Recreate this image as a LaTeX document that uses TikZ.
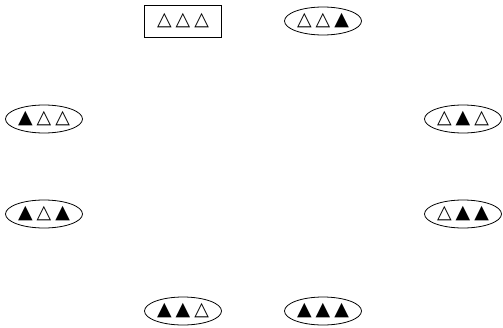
\documentclass[tikz,border=0pt]{standalone}
\usepackage{fontspec}
\usetikzlibrary{shapes.geometric}
\newfontfamily\symfont{DejaVu Sans}
\newcommand{\wt}{\symbol{"25B3}}
\newcommand{\bt}{\symbol{"25B2}}
\newcommand{\gap}{\hspace{4pt}}
\begin{document}
\begin{tikzpicture}[x=1pt,y=-1pt,font={\symfont\fontsize{19}{21}\selectfont},
	state/.style={draw,line width=0.8pt,ellipse,inner sep=0pt,minimum width=77pt,minimum height=28pt},
	start/.style={draw,line width=0.8pt,rectangle,inner sep=0pt,minimum width=77pt,minimum height=32pt}]
	%% khung hinh
	\useasboundingbox (0,0) rectangle (503,327);
	%% hang tren
	\node[start] (www) at (183,21) {\wt\gap\wt\gap\wt};
	\node[state] (wwb) at (323,21) {\wt\gap\wt\gap\bt};
	%% hai ben
	\node[state] (bww) at (44,119) {\bt\gap\wt\gap\wt};
	\node[state] (wbw) at (463,119) {\wt\gap\bt\gap\wt};
	\node[state] (bwb) at (44,214) {\bt\gap\wt\gap\bt};
	\node[state] (wbb) at (463,214) {\wt\gap\bt\gap\bt};
	%% hang duoi
	\node[state] (bbw) at (183,311) {\bt\gap\bt\gap\wt};
	\node[state] (bbb) at (323,311) {\bt\gap\bt\gap\bt};
\end{tikzpicture}
\end{document}
